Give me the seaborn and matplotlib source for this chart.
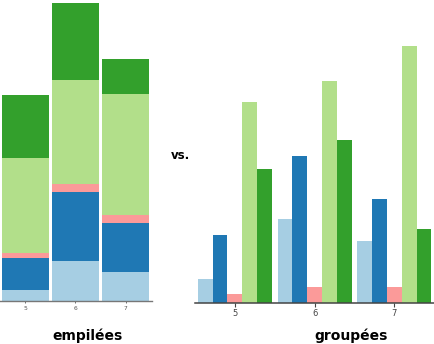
import matplotlib
matplotlib.use("Agg")
import matplotlib.pyplot as plt
import numpy as np
import pandas as pd
import seaborn as sns

# Wine quality levels and the five series drawn for each
qualities = ["5", "6", "7"]
series_names = ["s1", "s2", "s3", "s4", "s5"]
s1 = [24, 84, 62]
s2 = [68, 147, 104]
s3 = [9, 16, 16]
s4 = [201, 222, 257]
s5 = [134, 163, 74]
colors = ["#a6cee3", "#1f78b4", "#fb9a99", "#b2df8a", "#33a02c"]

values = [s1, s2, s3, s4, s5]

sns.set_theme(style="white")
plt.rcParams["font.family"] = ["DejaVu Sans"]

W, H = 435, 344
fig = plt.figure(figsize=(W / 100, H / 100), dpi=100)


def px_axes(x0, y_top, x1, y_bot):
    return fig.add_axes([x0 / W, 1 - y_bot / H, (x1 - x0) / W, (y_bot - y_top) / H])


# ---- stacked bars: overlay cumulative totals, tallest first ----
ax1 = px_axes(0, 2.7, 152, 301)
cum = np.cumsum(np.array(values), axis=0)
for i in range(len(series_names) - 1, -1, -1):
    d = pd.DataFrame({"quality": qualities, "value": cum[i]})
    sns.barplot(data=d, x="quality", y="value", color=colors[i], saturation=1,
                width=0.935, linewidth=0, ax=ax1)
ax1.set_xlim(-0.5, 2.52)
ax1.set_ylim(0, cum[-1].max())
ax1.set_xlabel("")
ax1.set_ylabel("")
ax1.set_yticks([])
for s in ["top", "right", "left"]:
    ax1.spines[s].set_visible(False)
ax1.spines["bottom"].set_color("#777777")
ax1.spines["bottom"].set_linewidth(1)
ax1.tick_params(axis="x", labelsize=4.3, colors="#555555", length=1.5,
                width=0.6, pad=2, bottom=True)

# ---- grouped bars ----
ax2 = px_axes(195, 45.7, 435, 302.5)
long = pd.DataFrame({
    "quality": np.tile(qualities, len(series_names)),
    "series": np.repeat(series_names, len(qualities)),
    "value": np.concatenate(values),
})
sns.barplot(data=long, x="quality", y="value", hue="series",
            hue_order=series_names, palette=colors, saturation=1,
            width=0.93, linewidth=0, legend=False, ax=ax2)
ax2.set_xlim(-0.5, 2.51)
ax2.set_ylim(0, max(max(v) for v in values))
ax2.set_xlabel("")
ax2.set_ylabel("")
ax2.set_yticks([])
for s in ["top", "right", "left"]:
    ax2.spines[s].set_visible(False)
ax2.spines["bottom"].set_color("#444444")
ax2.spines["bottom"].set_linewidth(1.1)
ax2.tick_params(axis="x", labelsize=6, colors="#444444", length=3,
                width=0.8, pad=2, bottom=True)

# ---- captions ----
fig.text(180.5 / W, 1 - 156 / H, "vs.", ha="center", va="center",
         fontsize=8.5, fontweight="bold", color="black")
fig.text(88 / W, 1 - 336 / H, "empilées", ha="center", va="center",
         fontsize=10, fontweight="bold", color="black")
fig.text(351 / W, 1 - 336 / H, "groupées", ha="center", va="center",
         fontsize=10, fontweight="bold", color="black")

fig.savefig("out.png", dpi=100)
